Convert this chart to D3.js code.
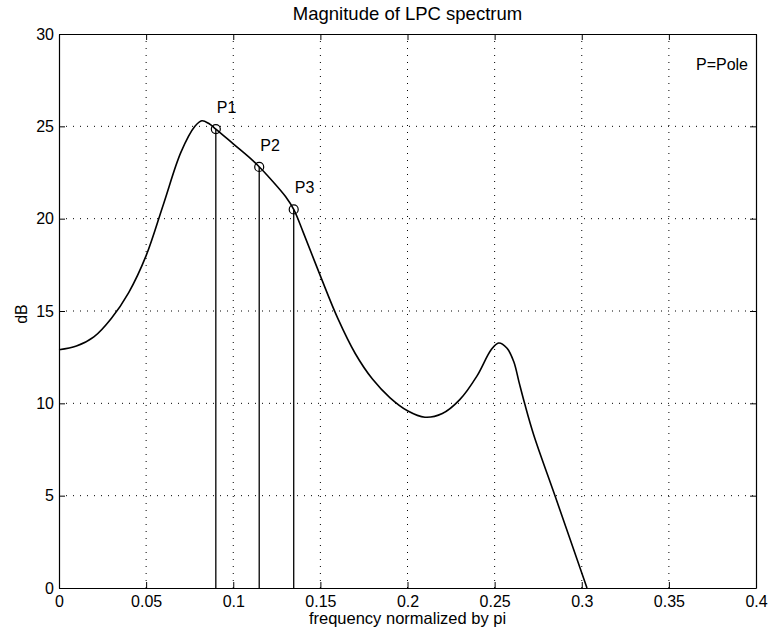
<!DOCTYPE html>
<html>
<head>
<meta charset="utf-8">
<script src="https://cdn.jsdelivr.net/npm/d3@7"></script>
<style>
  body { margin: 0; background: #fff; }
  text { font-family: "Liberation Sans", Arial, sans-serif; fill: #000; }
</style>
</head>
<body>
<div id="chart"></div>
<script>
// LPC magnitude spectrum (freq normalized by pi, dB)
let freq = [0, 0.01, 0.02, 0.03, 0.04, 0.05, 0.06, 0.07, 0.078, 0.082, 0.086, 0.09,
    0.1, 0.11, 0.115, 0.12, 0.13, 0.1347, 0.14, 0.15, 0.16, 0.17, 0.18, 0.19, 0.2, 0.21, 0.22,
    0.23, 0.24, 0.248, 0.2523, 0.257, 0.261, 0.264, 0.2672, 0.2724, 0.285, 0.303]
let magDb = [12.9, 13.1, 13.6, 14.6, 16.0, 18.0, 20.8, 23.6, 25.0, 25.3, 25.15, 24.85,
    24.05, 23.25, 22.8, 22.3, 21.2, 20.5, 19.3, 16.9, 14.6, 12.7, 11.3, 10.3, 9.6, 9.25, 9.45,
    10.2, 11.5, 12.9, 13.27, 13.0, 12.25, 11.15, 10.0, 8.3, 4.9, 0]

let poleNames = ['P1', 'P2', 'P3']
let poleFreq = [0.09, 0.1149, 0.1347]
let poleDb = [24.85, 22.8, 20.5]

let xTicks = [0, 0.05, 0.1, 0.15, 0.2, 0.25, 0.3, 0.35, 0.4]
let yTicks = [0, 5, 10, 15, 20, 25, 30]

let width = 770, height = 636
let margin = {top: 34, right: 14, bottom: 48, left: 59}

let svg = d3.select('#chart').append('svg')
    .attr('width', width)
    .attr('height', height)

let x = d3.scaleLinear().domain([0, 0.4]).range([margin.left, width - margin.right])
let y = d3.scaleLinear().domain([0, 30]).range([height - margin.bottom, margin.top])

// dotted grid
let grid = svg.append('g').attr('class', 'grid')
grid.selectAll('.vgrid')
    .data(xTicks.slice(1, -1))
    .join('line')
    .attr('x1', d => x(d)).attr('x2', d => x(d))
    .attr('y1', y(0)).attr('y2', y(30))
    .attr('stroke', '#000').attr('stroke-width', 1)
    .attr('stroke-dasharray', '1,6')
grid.selectAll('.hgrid')
    .data(yTicks.slice(1, -1))
    .join('line')
    .attr('x1', x(0)).attr('x2', x(0.4))
    .attr('y1', d => y(d)).attr('y2', d => y(d))
    .attr('stroke', '#000').attr('stroke-width', 1)
    .attr('stroke-dasharray', '1,6')

// axes, ticks pointing inward, mirrored on top and right
let fmt = d => d3.format('')(d)
svg.append('g')
    .attr('transform', `translate(0,${y(0)})`)
    .call(d3.axisBottom(x).tickValues(xTicks).tickFormat(fmt).tickSizeInner(-6).tickSizeOuter(0).tickPadding(8))
svg.append('g')
    .attr('transform', `translate(0,${y(30)})`)
    .call(d3.axisTop(x).tickValues(xTicks).tickFormat('').tickSizeInner(-6).tickSizeOuter(0))
svg.append('g')
    .attr('transform', `translate(${x(0)},0)`)
    .call(d3.axisLeft(y).tickValues(yTicks).tickSizeInner(-6).tickSizeOuter(0).tickPadding(5))
svg.append('g')
    .attr('transform', `translate(${x(0.4)},0)`)
    .call(d3.axisRight(y).tickValues(yTicks).tickFormat('').tickSizeInner(-6).tickSizeOuter(0))

svg.selectAll('.domain').attr('stroke', '#000').attr('stroke-width', 1.2)
svg.selectAll('.tick line').attr('stroke', '#000')
svg.selectAll('.tick text').style('font-size', '16px')

// spectrum curve
let line = d3.line()
    .x((d, i) => x(freq[i]))
    .y(d => y(d))
    .curve(d3.curveCatmullRom.alpha(0.5))

svg.append('path')
    .datum(magDb)
    .attr('d', line)
    .attr('fill', 'none')
    .attr('stroke', '#000')
    .attr('stroke-width', 1.6)

// pole stems
svg.selectAll('.stem')
    .data(poleFreq)
    .join('line')
    .attr('x1', d => x(d)).attr('x2', d => x(d))
    .attr('y1', (d, i) => y(poleDb[i])).attr('y2', y(0))
    .attr('stroke', '#000').attr('stroke-width', 1.3)

svg.selectAll('.pole')
    .data(poleFreq)
    .join('circle')
    .attr('cx', d => x(d))
    .attr('cy', (d, i) => y(poleDb[i]))
    .attr('r', 4.5)
    .attr('fill', 'none')
    .attr('stroke', '#000')
    .attr('stroke-width', 1.2)

svg.selectAll('.poleLabel')
    .data(poleNames)
    .join('text')
    .attr('x', (d, i) => x(poleFreq[i]) + 1)
    .attr('y', (d, i) => y(poleDb[i]) - 16)
    .style('font-size', '16px')
    .text(d => d)

svg.append('text')
    .attr('x', x(0.4) - 8)
    .attr('y', 70)
    .attr('text-anchor', 'end')
    .style('font-size', '16px')
    .text('P=Pole')

// titles
svg.append('text')
    .attr('x', (x(0) + x(0.4)) / 2)
    .attr('y', 20)
    .attr('text-anchor', 'middle')
    .style('font-size', '18.5px')
    .text('Magnitude of LPC spectrum')

svg.append('text')
    .attr('x', (x(0) + x(0.4)) / 2)
    .attr('y', 624)
    .attr('text-anchor', 'middle')
    .style('font-size', '16.5px')
    .text('frequency normalized by pi')

svg.append('text')
    .attr('transform', `translate(27,${(y(0) + y(30)) / 2 + 3}) rotate(-90)`)
    .attr('text-anchor', 'middle')
    .style('font-size', '16px')
    .text('dB')
</script>
</body>
</html>
